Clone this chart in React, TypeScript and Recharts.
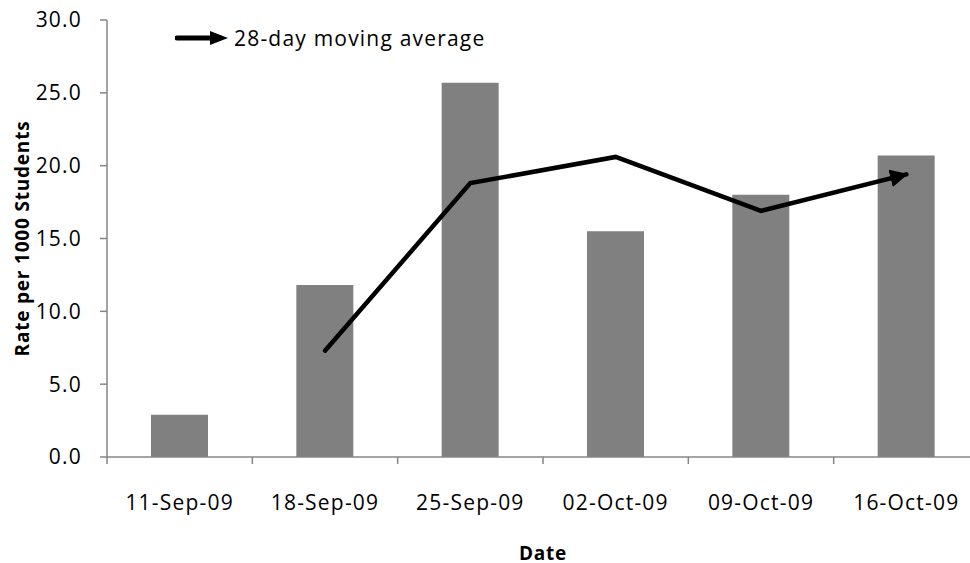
import {
  ComposedChart,
  Bar,
  Line,
  XAxis,
  YAxis,
  Legend,
} from 'recharts';

const dates = ['11-Sep-09', '18-Sep-09', '25-Sep-09', '02-Oct-09', '09-Oct-09', '16-Oct-09'];
const weeklyRates = [2.9, 11.8, 25.7, 15.5, 18.0, 20.7];
const movingAverage = [null, 7.3, 18.8, 20.6, 16.9, 19.4];
const yTicks = [0, 5, 10, 15, 20, 25, 30];

const data = dates.map((date, i) => ({
  date,
  rate: weeklyRates[i],
  avg: movingAverage[i],
}));

const CHART_W = 985;
const CHART_H = 563;
const MARGIN = { top: 20, right: 6, left: 0, bottom: 0 };
const Y_AXIS_W = 107;
const X_AXIS_H = 106;
const BAND = (CHART_W - MARGIN.left - MARGIN.right - Y_AXIS_W) / dates.length;

const FONT = '"Open Sans", "Liberation Sans", sans-serif';
const AXIS_COLOR = '#868686';

// Category ticks sit on band boundaries, labels in the middle
const DateTick = ({ x, y, payload }: { x?: number; y?: number; payload?: { value: string } }) => {
  if (x == null || y == null || !payload) return null;
  return (
    <g>
      <line x1={x - BAND / 2} x2={x - BAND / 2} y1={y} y2={y + 7} stroke={AXIS_COLOR} strokeWidth={1.5} />
      <text
        x={x}
        y={y + 45}
        textAnchor="middle"
        dominantBaseline="central"
        fontFamily={FONT}
        fontSize={21}
        letterSpacing={1.2}
        fill="#000"
      >
        {payload.value}
      </text>
    </g>
  );
};

const ArrowLegend = ({ payload }: { payload?: Array<{ value: string; dataKey?: string }> }) => {
  const items = (payload || []).filter((p) => p.dataKey === 'avg');
  return (
    <div style={{ display: 'flex', alignItems: 'center' }}>
      {items.map((item) => (
        <div key={item.value} style={{ display: 'flex', alignItems: 'center' }}>
          <svg width={54} height={20}>
            <line x1={2} y1={10} x2={38} y2={10} stroke="#000" strokeWidth={5} strokeLinecap="round" />
            <polygon points="35,3 53,10 35,17" fill="#000" />
          </svg>
          <span
            style={{
              marginLeft: 5,
              fontFamily: FONT,
              fontSize: 21,
              letterSpacing: 1.2,
              lineHeight: '28px',
              color: '#000',
            }}
          >
            {item.value}
          </span>
        </div>
      ))}
    </div>
  );
};

export default function App() {
  return (
    <div
      style={{
        position: 'absolute',
        left: 0,
        top: 0,
        width: 970,
        height: 563,
        overflow: 'hidden',
        background: '#fff',
      }}
    >
      <ComposedChart width={CHART_W} height={CHART_H} data={data} margin={MARGIN}>
        <defs>
          <marker
            id="avgArrow"
            viewBox="0 0 10 10"
            refX={9}
            refY={5}
            markerWidth={18}
            markerHeight={18}
            markerUnits="userSpaceOnUse"
            orient="auto"
          >
            <polygon points="0,0 10,5 0,10" fill="#000" />
          </marker>
        </defs>
        <XAxis
          dataKey="date"
          height={X_AXIS_H}
          stroke={AXIS_COLOR}
          strokeWidth={1.5}
          tickLine={false}
          tickSize={0}
          tickMargin={0}
          tick={<DateTick />}
          interval={0}
          label={{
            value: 'Date',
            position: 'insideBottom',
            offset: 3,
            fontFamily: FONT,
            fontSize: 19,
            fontWeight: 'bold',
            letterSpacing: 0.8,
            fill: '#000',
          }}
        />
        <YAxis
          width={Y_AXIS_W}
          domain={[0, 30]}
          ticks={yTicks}
          interval={0}
          tickFormatter={(v: number) => v.toFixed(1)}
          stroke={AXIS_COLOR}
          strokeWidth={1.5}
          tickSize={7}
          tickMargin={18}
          tick={{ fontFamily: FONT, fontSize: 21, fill: '#000', letterSpacing: 1.2 }}
          label={{
            value: 'Rate per 1000 Students',
            angle: -90,
            position: 'insideLeft',
            offset: 22,
            fontFamily: FONT,
            fontSize: 19,
            fontWeight: 'bold',
            letterSpacing: 0.8,
            fill: '#000',
            style: { textAnchor: 'middle' },
          }}
        />
        <Legend
          layout="horizontal"
          verticalAlign="middle"
          align="center"
          wrapperStyle={{ top: 24, left: 175, width: 'auto' }}
          content={<ArrowLegend />}
        />
        <Bar
          dataKey="rate"
          fill="#808080"
          barSize={57}
          legendType="none"
          isAnimationActive={false}
        />
        <Line
          dataKey="avg"
          name="28-day moving average"
          stroke="#000"
          strokeWidth={4.5}
          strokeLinecap="round"
          strokeLinejoin="miter"
          dot={false}
          activeDot={false}
          markerEnd="url(#avgArrow)"
          isAnimationActive={false}
        />
      </ComposedChart>
    </div>
  );
}
